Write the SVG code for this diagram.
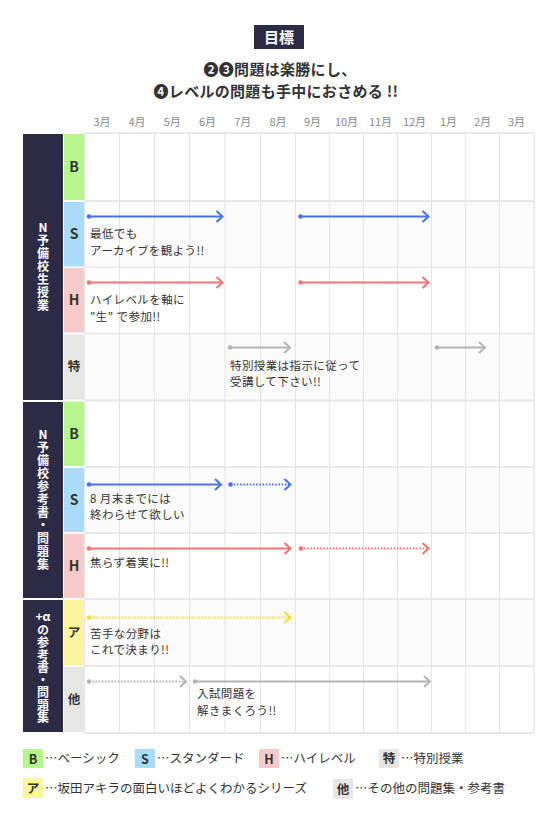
<svg xmlns="http://www.w3.org/2000/svg" width="558" height="824" viewBox="0 0 558 824">
<style>
text{font-family:"Noto Sans CJK JP","Noto Sans",sans-serif;}
.mon{font-size:11px;fill:#888;text-anchor:middle;}
.cat{font-size:14px;font-weight:bold;fill:#333;text-anchor:middle;}
.catk{font-size:12.5px;font-weight:bold;fill:#333;text-anchor:middle;}
.note{font-size:11.5px;fill:#333;letter-spacing:0.4px;}
.vl{font-size:12px;font-weight:bold;fill:#fff;text-anchor:middle;}
.vt{writing-mode:vertical-rl;text-orientation:upright;}
.leg{font-size:12.5px;fill:#333;}
.sub{font-size:15px;font-weight:bold;fill:#333;text-anchor:middle;letter-spacing:0.3px;}
.vline{stroke:#e4e4e4;stroke-width:1;}
.w{fill:#ffffff;}
.g{fill:#fbfbfb;}
.dark{fill:#2b2b46;}
.cB{fill:#b5f68d;}
.cS{fill:#a9dcf6;}
.cH{fill:#f7c9c9;}
.cT{fill:#e6e6e6;}
.cA{fill:#fbf59b;}
.blue{stroke:#4c72e2;stroke-width:2;fill:none;}
.red{stroke:#f27474;stroke-width:2;fill:none;}
.gray{stroke:#b4b4b4;stroke-width:2;fill:none;}
.yel{stroke:#eedf2a;stroke-width:2;fill:none;}
.dot{stroke-dasharray:1.6 1.6;}
</style>
<defs>
<marker id="hb" viewBox="-8 -7 10 14" markerWidth="10" markerHeight="14" refX="0" refY="0" markerUnits="userSpaceOnUse" orient="auto"><path d="M-6,-5.5 L0,0 L-6,5.5" fill="none" stroke="#4c72e2" stroke-width="2"/></marker>
<marker id="hr" viewBox="-8 -7 10 14" markerWidth="10" markerHeight="14" refX="0" refY="0" markerUnits="userSpaceOnUse" orient="auto"><path d="M-6,-5.5 L0,0 L-6,5.5" fill="none" stroke="#f27474" stroke-width="2"/></marker>
<marker id="hg" viewBox="-8 -7 10 14" markerWidth="10" markerHeight="14" refX="0" refY="0" markerUnits="userSpaceOnUse" orient="auto"><path d="M-6,-5.5 L0,0 L-6,5.5" fill="none" stroke="#b4b4b4" stroke-width="2"/></marker>
<marker id="hy" viewBox="-8 -7 10 14" markerWidth="10" markerHeight="14" refX="0" refY="0" markerUnits="userSpaceOnUse" orient="auto"><path d="M-6,-5.5 L0,0 L-6,5.5" fill="none" stroke="#eedf2a" stroke-width="2"/></marker>
<marker id="db" viewBox="-3 -3 6 6" markerWidth="6" markerHeight="6" refX="0" refY="0" markerUnits="userSpaceOnUse"><circle r="2.3" fill="#4c72e2"/></marker>
<marker id="dr" viewBox="-3 -3 6 6" markerWidth="6" markerHeight="6" refX="0" refY="0" markerUnits="userSpaceOnUse"><circle r="2.3" fill="#f27474"/></marker>
<marker id="dg" viewBox="-3 -3 6 6" markerWidth="6" markerHeight="6" refX="0" refY="0" markerUnits="userSpaceOnUse"><circle r="2.3" fill="#b4b4b4"/></marker>
<marker id="dy" viewBox="-3 -3 6 6" markerWidth="6" markerHeight="6" refX="0" refY="0" markerUnits="userSpaceOnUse"><circle r="2.3" fill="#eedf2a"/></marker>
</defs>
<rect width="558" height="824" fill="#ffffff"/>

<g id="title">
<rect x="254" y="25" width="50" height="24" class="dark"/>
<text x="279" y="42.5" font-size="15" font-weight="bold" fill="#fff" text-anchor="middle">目標</text>
<text class="sub" x="280" y="75">❷❸問題は楽勝にし、</text>
<text class="sub" x="276" y="97">❹レベルの問題も手中におさめる !!</text>
</g>

<g id="months">
<text class="mon" x="102" y="126">3月</text>
<text class="mon" x="137" y="126">4月</text>
<text class="mon" x="172.3" y="126">5月</text>
<text class="mon" x="207.5" y="126">6月</text>
<text class="mon" x="242.7" y="126">7月</text>
<text class="mon" x="278" y="126">8月</text>
<text class="mon" x="312.5" y="126">9月</text>
<text class="mon" x="346.5" y="126">10月</text>
<text class="mon" x="380.5" y="126">11月</text>
<text class="mon" x="414.5" y="126">12月</text>
<text class="mon" x="448.5" y="126">1月</text>
<text class="mon" x="482.5" y="126">2月</text>
<text class="mon" x="516.5" y="126">3月</text>
</g>

<g id="grid">
<rect x="84" y="132" width="451" height="602" fill="#e8e8e8"/>
<rect x="85" y="134" width="448.5" height="66" class="w"/>
<rect x="85" y="202" width="448.5" height="64.5" class="g"/>
<rect x="85" y="268" width="448.5" height="64.5" class="w"/>
<rect x="85" y="334.5" width="448.5" height="65" class="g"/>
<rect x="85" y="401.5" width="448.5" height="64.5" class="w"/>
<rect x="85" y="468" width="448.5" height="64" class="g"/>
<rect x="85" y="534" width="448.5" height="64" class="w"/>
<rect x="85" y="600" width="448.5" height="65" class="g"/>
<rect x="85" y="667" width="448.5" height="65" class="w"/>
<g class="vline">
<line x1="119.5" y1="134" x2="119.5" y2="732"/>
<line x1="154.5" y1="134" x2="154.5" y2="732"/>
<line x1="189.5" y1="134" x2="189.5" y2="732"/>
<line x1="225" y1="134" x2="225" y2="732"/>
<line x1="260.5" y1="134" x2="260.5" y2="732"/>
<line x1="295.5" y1="134" x2="295.5" y2="732"/>
<line x1="329.5" y1="134" x2="329.5" y2="732"/>
<line x1="363.5" y1="134" x2="363.5" y2="732"/>
<line x1="397.5" y1="134" x2="397.5" y2="732"/>
<line x1="431.5" y1="134" x2="431.5" y2="732"/>
<line x1="465.5" y1="134" x2="465.5" y2="732"/>
<line x1="499.5" y1="134" x2="499.5" y2="732"/>
</g>
</g>

<g id="section1">
<rect x="23" y="134" width="40" height="266" class="dark"/>
<text class="vl vt" font-size="13" letter-spacing="1" x="43" y="267">N予備校生授業</text>
</g>
<g id="section2">
<rect x="23" y="402" width="40" height="196" class="dark"/>
<text class="vl vt" letter-spacing="1" x="43" y="500">N予備校参考書・問題集</text>
</g>
<g id="section3">
<rect x="23" y="600" width="40" height="132" class="dark"/>
<text class="vl" x="43" y="621">+α</text>
<text class="vl vt" letter-spacing="0.5" x="43" y="674">の参考書・問題集</text>
</g>

<g id="cat-B1"><rect x="64" y="134" width="20" height="66" class="cB"/><text class="cat" x="74" y="172">B</text></g>
<g id="cat-S1"><rect x="64" y="202" width="20" height="64.5" class="cS"/><text class="cat" x="74" y="239">S</text></g>
<g id="cat-H1"><rect x="64" y="268" width="20" height="64.5" class="cH"/><text class="cat" x="74" y="305">H</text></g>
<g id="cat-T1"><rect x="64" y="334.5" width="20" height="65" class="cT"/><text class="catk" x="74" y="371">特</text></g>
<g id="cat-B2"><rect x="64" y="401.5" width="20" height="64.5" class="cB"/><text class="cat" x="74" y="439">B</text></g>
<g id="cat-S2"><rect x="64" y="468" width="20" height="64" class="cS"/><text class="cat" x="74" y="505">S</text></g>
<g id="cat-H2"><rect x="64" y="534" width="20" height="64" class="cH"/><text class="cat" x="74" y="571">H</text></g>
<g id="cat-A"><rect x="64" y="600" width="20" height="65" class="cA"/><text class="catk" x="74" y="637">ア</text></g>
<g id="cat-O"><rect x="64" y="667" width="20" height="65" class="cT"/><text class="catk" x="74" y="704">他</text></g>

<g id="connectors">
<path class="blue" d="M89,216.5 H222.5" marker-start="url(#db)" marker-end="url(#hb)"/>
<path class="blue" d="M300.5,216.5 H428.5" marker-start="url(#db)" marker-end="url(#hb)"/>
<path class="red" d="M89,282.5 H222.5" marker-start="url(#dr)" marker-end="url(#hr)"/>
<path class="red" d="M300.5,282.5 H428.5" marker-start="url(#dr)" marker-end="url(#hr)"/>
<path class="gray" d="M230,347.5 H290" marker-start="url(#dg)" marker-end="url(#hg)"/>
<path class="gray" d="M437,347.5 H485" marker-start="url(#dg)" marker-end="url(#hg)"/>
<path class="blue" d="M89,484.5 H221" marker-start="url(#db)" marker-end="url(#hb)"/>
<path class="blue dot" d="M230.5,484.5 H290.5" marker-start="url(#db)" marker-end="url(#hb)"/>
<path class="red" d="M89,548.5 H290.5" marker-start="url(#dr)" marker-end="url(#hr)"/>
<path class="red dot" d="M301,548.5 H428.5" marker-start="url(#dr)" marker-end="url(#hr)"/>
<path class="yel dot" d="M89,617.5 H290.5" marker-start="url(#dy)" marker-end="url(#hy)"/>
<path class="gray dot" d="M89,681.5 H186" marker-start="url(#dg)" marker-end="url(#hg)"/>
<path class="gray" d="M195,681.5 H430" marker-start="url(#dg)" marker-end="url(#hg)"/>
</g>

<g id="notes">
<text class="note" x="90" y="238">最低でも</text>
<text class="note" x="90" y="255">アーカイブを観よう!!</text>
<text class="note" x="90" y="304">ハイレベルを軸に</text>
<text class="note" x="90" y="321">"生" で参加!!</text>
<text class="note" x="230" y="370">特別授業は指示に従って</text>
<text class="note" x="230" y="386">受講して下さい!!</text>
<text class="note" x="90" y="503">8 月末までには</text>
<text class="note" x="90" y="519">終わらせて欲しい</text>
<text class="note" x="90" y="567">焦らず着実に!!</text>
<text class="note" x="90" y="638">苦手な分野は</text>
<text class="note" x="90" y="654">これで決まり!!</text>
<text class="note" x="197" y="698">入試問題を</text>
<text class="note" x="197" y="715">解きまくろう!!</text>
</g>

<g id="legend">
<g id="leg-B"><rect x="23" y="749" width="20" height="19" class="cB"/><text class="catk" font-size="13" x="33" y="763.5">B</text><text class="leg" x="45" y="763">…ベーシック</text></g>
<g id="leg-S"><rect x="135" y="749" width="20" height="19" class="cS"/><text class="catk" font-size="13" x="145" y="763.5">S</text><text class="leg" x="157" y="763">…スタンダード</text></g>
<g id="leg-H"><rect x="259" y="749" width="20" height="19" class="cH"/><text class="catk" font-size="13" x="269" y="763.5">H</text><text class="leg" x="281" y="763">…ハイレベル</text></g>
<g id="leg-T"><rect x="379" y="749" width="20" height="19" class="cT"/><text class="catk" font-size="11" x="389" y="762.5">特</text><text class="leg" x="401" y="763">…特別授業</text></g>
<g id="leg-A"><rect x="23" y="778" width="20" height="20" class="cA"/><text class="catk" font-size="12" x="33" y="792.5">ア</text><text class="leg" x="45" y="793">…坂田アキラの面白いほどよくわかるシリーズ</text></g>
<g id="leg-O"><rect x="333" y="779" width="20" height="20" class="cT"/><text class="catk" font-size="11" x="343" y="793.5">他</text><text class="leg" x="355" y="793">…その他の問題集・参考書</text></g>
</g>
</svg>
